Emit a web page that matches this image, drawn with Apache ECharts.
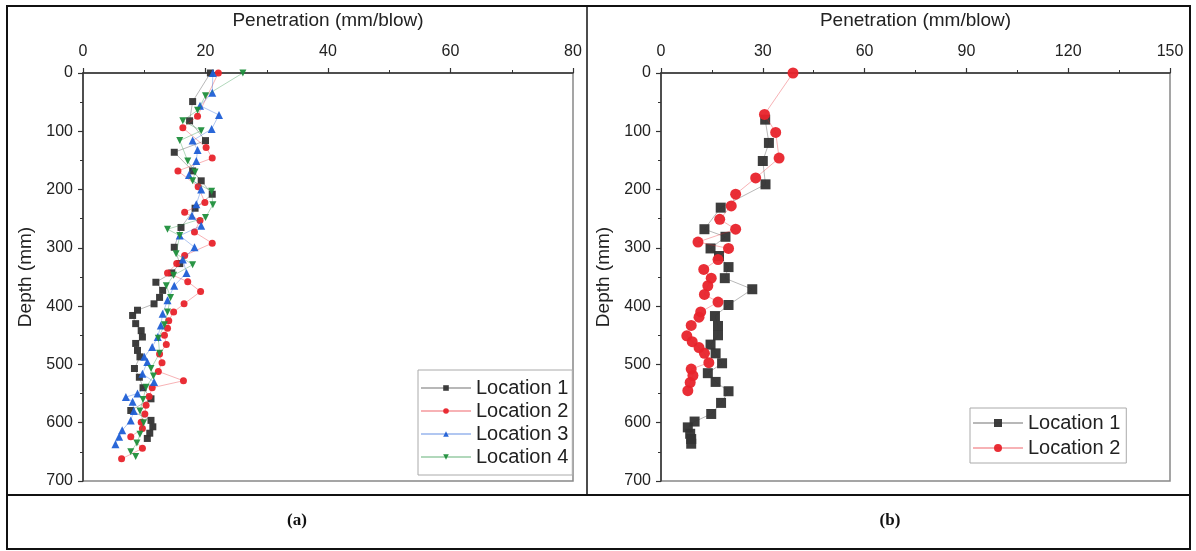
<!DOCTYPE html>
<html>
<head>
<meta charset="utf-8">
<script src="https://cdn.jsdelivr.net/npm/echarts@6/dist/echarts.min.js"></script>
<style>
  html, body { margin: 0; padding: 0; background: #fff; }
  #chart { width: 1196px; height: 551px; }
</style>
</head>
<body>
<div id="chart"></div>
<script>
// Panel (a): DCP penetration vs depth, four locations
const depthA1 = [0, 49, 82, 116, 136, 168, 185, 208, 232, 265, 299, 327, 343, 359, 373, 385, 396, 407, 416, 430, 442, 453, 464, 476, 487, 507, 522, 540, 559, 579, 596, 607, 618, 627];
const penA1 = [20.8, 17.9, 17.4, 20.0, 14.9, 17.9, 19.3, 21.1, 18.3, 16.0, 14.9, 15.8, 14.5, 11.9, 13.0, 12.5, 11.6, 8.9, 8.1, 8.6, 9.5, 9.7, 8.6, 8.9, 9.3, 8.4, 9.2, 9.8, 11.1, 7.8, 11.1, 11.4, 10.9, 10.5];

const depthA2 = [0, 74, 94, 128, 146, 168, 195, 222, 239, 253, 273, 292, 313, 327, 343, 358, 375, 396, 410, 425, 438, 450, 466, 482, 497, 512, 528, 540, 555, 570, 585, 599, 610, 624, 644, 662];
const penA2 = [22.1, 18.7, 16.3, 20.1, 21.1, 15.5, 18.8, 19.9, 16.6, 19.1, 18.2, 21.1, 16.6, 15.3, 13.8, 17.1, 19.2, 16.5, 14.8, 14.0, 13.8, 13.3, 13.6, 12.5, 12.9, 12.3, 16.4, 11.3, 10.8, 10.3, 10.1, 9.5, 9.7, 7.8, 9.7, 6.3];

const depthA3 = [0, 34, 56, 72, 96, 116, 132, 151, 175, 200, 225, 245, 262, 279, 299, 320, 343, 365, 390, 413, 433, 453, 470, 487, 496, 516, 530, 550, 556, 564, 580, 596, 613, 624, 637];
const penA3 = [21.2, 21.1, 19.1, 22.2, 21.0, 17.9, 18.7, 18.5, 17.3, 19.3, 18.5, 17.8, 19.3, 15.8, 18.2, 16.3, 16.9, 14.9, 13.8, 13.0, 12.7, 12.2, 11.3, 10.0, 10.5, 9.7, 11.6, 8.9, 7.0, 8.1, 8.3, 7.8, 6.4, 5.9, 5.3];

const depthA4 = [0, 39, 64, 82, 99, 116, 151, 170, 185, 203, 226, 248, 268, 279, 310, 329, 347, 365, 385, 410, 432, 455, 481, 507, 520, 539, 560, 580, 600, 620, 635, 650, 658];
const penA4 = [26.1, 20.0, 18.7, 16.3, 19.3, 15.8, 17.1, 18.3, 17.9, 21.0, 21.2, 20.0, 13.8, 15.8, 15.2, 17.9, 14.8, 13.6, 14.3, 13.8, 13.3, 12.3, 12.5, 11.1, 11.5, 10.3, 9.8, 9.3, 9.9, 9.3, 8.8, 7.8, 8.6];

// Panel (b): two locations
const depthB1 = [80, 120, 151, 191, 231, 268, 281, 301, 314, 333, 352, 371, 398, 417, 434, 450, 466, 481, 498, 515, 530, 546, 566, 585, 598, 608, 619, 628, 636];
const penB1 = [30.7, 31.8, 30.0, 30.8, 17.6, 12.8, 19.0, 14.6, 17.1, 19.9, 18.8, 26.9, 19.9, 15.9, 16.8, 16.8, 14.6, 16.1, 18.0, 13.8, 16.1, 19.9, 17.7, 14.8, 9.9, 7.9, 8.6, 8.9, 8.9];

const depthB2 = [0, 71, 102, 146, 180, 208, 228, 251, 268, 290, 301, 320, 337, 352, 365, 380, 393, 410, 419, 433, 451, 461, 471, 481, 497, 508, 519, 531, 545];
const penB2 = [38.9, 30.5, 33.8, 34.8, 27.9, 22.0, 20.7, 17.3, 22.0, 10.9, 19.9, 16.8, 12.6, 14.8, 13.8, 12.8, 16.8, 11.7, 11.2, 8.9, 7.6, 9.2, 11.2, 12.8, 14.1, 8.9, 9.4, 8.6, 7.9];

// Axis ticks
const xTicksA = { min: 0, max: 80, interval: 20 };
const xTicksB = { min: 0, max: 150, interval: 30 };
const depthTicks = { min: 0, max: 700, interval: 100 };

const seriesNames = ['Location 1', 'Location 2', 'Location 3', 'Location 4'];
const colors = ['#333333', '#e8232b', '#1f5fd6', '#1f8f3c'];
const symbols = ['rect', 'circle', 'triangle', 'path://M0,0 L10,0 L5,9 Z'];

const pairs = (xs, ys) => xs.map((d, i) => [ys[i], d]);

const font = 'Liberation Sans, Arial, sans-serif';

function xAxis(idx, t) {
  return {
    gridIndex: idx, type: 'value', position: 'top',
    min: t.min, max: t.max, interval: t.interval,
    name: 'Penetration (mm/blow)', nameLocation: 'middle', nameGap: 43,
    nameTextStyle: { fontFamily: font, fontSize: 19, color: '#222' },
    axisLine: { show: true, lineStyle: { color: '#333', width: 1.5 } },
    axisTick: { show: true, length: 5, lineStyle: { color: '#333', width: 1.2 } },
    minorTick: { show: true, splitNumber: 2, length: 3, lineStyle: { color: '#333', width: 1 } },
    axisLabel: { fontFamily: font, fontSize: 16, color: '#222', margin: 13 },
    splitLine: { show: false }
  };
}
function yAxis(idx) {
  return {
    gridIndex: idx, type: 'value', inverse: true,
    min: depthTicks.min, max: depthTicks.max, interval: depthTicks.interval,
    name: 'Depth (mm)', nameLocation: 'middle', nameGap: 48, nameRotate: 90,
    nameTextStyle: { fontFamily: font, fontSize: 19, color: '#222' },
    axisLine: { show: true, onZero: false, lineStyle: { color: '#333', width: 1.5 } },
    axisTick: { show: true, length: 5, lineStyle: { color: '#333', width: 1.2 } },
    minorTick: { show: true, splitNumber: 2, length: 3, lineStyle: { color: '#333', width: 1 } },
    axisLabel: { fontFamily: font, fontSize: 16, color: '#222', margin: 10 },
    splitLine: { show: false }
  };
}

function lineSeries(name, k, axisIdx, data, size) {
  return {
    name: name, type: 'line', xAxisIndex: axisIdx, yAxisIndex: axisIdx,
    data: data, symbol: symbols[k], symbolSize: size,
    showAllSymbol: true, animation: false,
    itemStyle: { color: colors[k], opacity: 0.95 },
    lineStyle: { color: colors[k], width: 1, opacity: 0.35 },
    z: 3 + k
  };
}

const chart = echarts.init(document.getElementById('chart'), null, { renderer: 'canvas' });
chart.setOption({
  backgroundColor: '#ffffff',
  animation: false,
  grid: [
    { left: 83, top: 73, width: 490, height: 408, show: true, borderColor: '#888', borderWidth: 1.5 },
    { left: 661, top: 73, width: 509, height: 408, show: true, borderColor: '#888', borderWidth: 1.5 }
  ],
  xAxis: [xAxis(0, xTicksA), xAxis(1, xTicksB)],
  yAxis: [yAxis(0), yAxis(1)],
  legend: [
    {
      data: seriesNames, orient: 'vertical', left: 418, top: 370,
      itemWidth: 50, itemHeight: 7, itemGap: 3, padding: [8, 4, 8, 2],
      borderColor: '#aaa', borderWidth: 1, backgroundColor: '#fff',
      textStyle: { fontFamily: font, fontSize: 20, color: '#222' }
    },
    {
      data: seriesNames.slice(0, 2), orient: 'vertical', left: 970, top: 408,
      itemWidth: 50, itemHeight: 10, itemGap: 5, padding: [5, 6, 5, 2],
      borderColor: '#aaa', borderWidth: 1, backgroundColor: '#fff',
      textStyle: { fontFamily: font, fontSize: 20, color: '#222' }
    }
  ],
  series: [
    lineSeries(seriesNames[0], 0, 0, pairs(depthA1, penA1), 7),
    lineSeries(seriesNames[1], 1, 0, pairs(depthA2, penA2), 7),
    lineSeries(seriesNames[2], 2, 0, pairs(depthA3, penA3), 8),
    lineSeries(seriesNames[3], 3, 0, pairs(depthA4, penA4), 7),
    lineSeries(seriesNames[0], 0, 1, pairs(depthB1, penB1), 10),
    lineSeries(seriesNames[1], 1, 1, pairs(depthB2, penB2), 11)
  ],
  graphic: [
    { type: 'rect', shape: { x: 7, y: 6, width: 1183, height: 543 }, style: { fill: 'none', stroke: '#111', lineWidth: 2 }, z: 100 },
    { type: 'line', shape: { x1: 587, y1: 6, x2: 587, y2: 495 }, style: { stroke: '#111', lineWidth: 1.5 }, z: 100 },
    { type: 'line', shape: { x1: 7, y1: 495, x2: 1190, y2: 495 }, style: { stroke: '#111', lineWidth: 2 }, z: 100 },
    { type: 'text', x: 297, y: 521, style: { text: '(a)', font: 'bold 17px "Liberation Serif", "Times New Roman", serif', fill: '#111', align: 'center', verticalAlign: 'middle' }, z: 100 },
    { type: 'text', x: 890, y: 521, style: { text: '(b)', font: 'bold 17px "Liberation Serif", "Times New Roman", serif', fill: '#111', align: 'center', verticalAlign: 'middle' }, z: 100 }
  ]
});
</script>
</body>
</html>
